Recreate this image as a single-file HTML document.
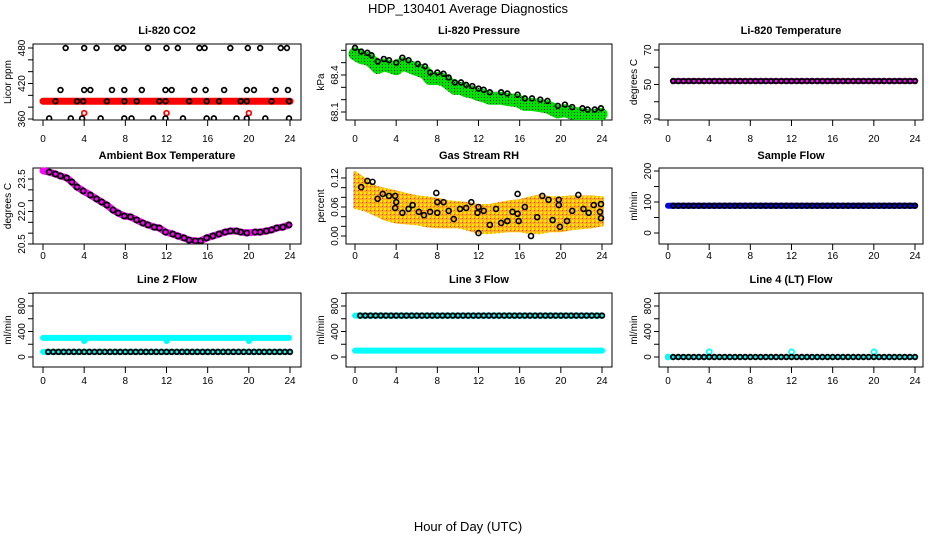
<!DOCTYPE html>
<html><head><meta charset="utf-8">
<style>
html,body{margin:0;padding:0;background:#fff;}
svg{display:block;font-family:"Liberation Sans",Arial,sans-serif;}
</style></head>
<body>
<svg id="c" width="936" height="540" viewBox="0 0 936 540" xmlns="http://www.w3.org/2000/svg">
<defs>
<pattern id="rhpat" width="4" height="4" patternUnits="userSpaceOnUse">
<rect width="4" height="4" fill="#f8b020"/><rect x="0" y="0" width="2" height="2" fill="#ffe800"/><rect x="2" y="2" width="1" height="1" fill="#e05000"/>
</pattern>
<pattern id="grpat" width="3" height="3" patternUnits="userSpaceOnUse">
<rect width="3" height="3" fill="#00e000"/><rect x="1" y="1" width="1" height="1" fill="#004000"/>
</pattern>
</defs>
<text x="468" y="13" text-anchor="middle" font-size="13">HDP_130401  Average Diagnostics</text>
<text x="468" y="531" text-anchor="middle" font-size="13">Hour of Day (UTC)</text>
</svg>
<script>
// ---- data ----
const hourTicks = [0,4,8,12,16,20,24];
const co2TopT = [2.2,4.0,5.2,7.2,7.8,10.2,12.0,13.1,15.2,15.7,18.2,19.9,21.1,23.1,23.7];
const co2TopV = [480,480,480,480,480,480,480,480,480,480,480,480,480,480,480];
const co2UpT = [1.7,4.0,4.6,6.7,7.9,9.6,11.9,12.5,14.7,15.8,17.6,19.8,20.5,22.6,23.8];
const co2UpV = [409,409,409,409,409,409,409,409,409,409,409,409,409,409,409];
const co2MidT = [1.2,3.3,3.9,6.2,7.9,9.1,11.3,11.9,14.2,15.9,17.1,19.2,19.8,22.2,23.9];
const co2MidV = [390,390,390,390,390,390,390,390,390,390,390,390,390,390,390];
const co2LowT = [0.6,2.7,3.8,5.6,7.9,8.6,10.7,11.9,13.6,15.9,16.6,18.8,19.8,21.6,23.9];
const co2LowV = [361,361,361,361,361,361,361,361,361,361,361,361,361,361,361];
const co2RedT = [0,24];
const co2RedV = [390,390];
const co2RedPtT = [4,12,20];
const co2RedPtV = [370,370,370];

const presT = [0,0.6,1.2,1.6,2.2,2.8,3.3,4.0,4.6,5.2,6.1,6.8,7.3,8.0,8.6,9.1,9.7,10.3,10.8,11.4,12.0,12.5,13.1,14.2,14.8,15.8,16.5,17.2,18.0,18.7,19.7,20.4,21.1,22.1,22.6,23.3,23.9];
const presV = [68.62,68.59,68.58,68.56,68.51,68.53,68.52,68.50,68.54,68.52,68.49,68.47,68.42,68.42,68.41,68.38,68.34,68.34,68.32,68.31,68.29,68.28,68.26,68.26,68.25,68.24,68.21,68.21,68.20,68.19,68.15,68.16,68.14,68.13,68.12,68.12,68.13];

const ambT = [0,0.6,1.2,1.7,2.3,2.8,3.3,3.9,4.6,5.2,5.7,6.2,6.8,7.3,7.9,8.5,9.1,9.7,10.2,10.8,11.3,11.9,12.6,13.1,13.7,14.2,14.8,15.3,15.9,16.5,17.1,17.7,18.2,18.8,19.2,19.8,20.6,21.1,21.7,22.2,22.7,23.3,23.9];
const ambV = [23.88,23.82,23.73,23.64,23.55,23.36,23.13,22.95,22.76,22.58,22.44,22.30,22.07,21.93,21.79,21.75,21.61,21.47,21.38,21.28,21.24,21.05,20.96,20.87,20.78,20.68,20.64,20.64,20.78,20.87,20.96,21.05,21.10,21.10,21.05,21.01,21.05,21.05,21.10,21.15,21.24,21.28,21.38];

const rhT = [0.6,1.2,1.7,2.2,2.7,3.3,3.9,4.0,3.9,4.6,5.2,5.6,6.2,6.7,7.3,7.9,8.0,8.0,8.6,9.1,9.6,10.2,10.8,11.3,11.9,12.0,12.0,12.5,13.1,13.7,14.2,14.8,15.3,15.8,15.8,15.9,16.5,17.1,17.7,18.2,18.8,19.2,19.8,19.8,19.9,20.6,21.1,21.7,22.2,22.7,23.2,23.8,23.9,23.9];
const rhV = [0.101,0.114,0.112,0.077,0.087,0.083,0.083,0.070,0.058,0.048,0.056,0.064,0.050,0.043,0.050,0.089,0.070,0.048,0.070,0.052,0.035,0.056,0.058,0.070,0.048,0.060,0.006,0.052,0.023,0.056,0.027,0.031,0.050,0.046,0.087,0.031,0.060,0.000,0.039,0.083,0.075,0.033,0.075,0.064,0.019,0.031,0.052,0.085,0.056,0.048,0.064,0.050,0.037,0.066];
const rhBandT = [0,1,2,3,4,5,6,7,8,9,10,11,12,13,14,15,16,17,18,19,20,21,22,23,24];
const rhUpper = [0.13,0.115,0.10,0.095,0.09,0.085,0.08,0.078,0.075,0.07,0.068,0.066,0.062,0.062,0.066,0.07,0.072,0.078,0.082,0.078,0.078,0.08,0.08,0.08,0.078];
const rhLower = [0.06,0.055,0.045,0.035,0.03,0.028,0.026,0.022,0.02,0.02,0.02,0.015,0.008,0.008,0.01,0.012,0.012,0.008,0.008,0.012,0.012,0.016,0.018,0.02,0.024];

const gridT = [0.5,1,1.5,2,2.5,3,3.5,4,4.5,5,5.5,6,6.5,7,7.5,8,8.5,9,9.5,10,10.5,11,11.5,12,12.5,13,13.5,14,14.5,15,15.5,16,16.5,17,17.5,18,18.5,19,19.5,20,20.5,21,21.5,22,22.5,23,23.5,24];
const tempV = [52,52,52,52,52,52,52,52,52,52,52,52,52,52,52,52,52,52,52,52,52,52,52,52,52,52,52,52,52,52,52,52,52,52,52,52,52,52,52,52,52,52,52,52,52,52,52,52];
const flowSampleV = [88,88,88,88,88,88,88,88,88,88,88,88,88,88,88,88,88,88,88,88,88,88,88,88,88,88,88,88,88,88,88,88,88,88,88,88,88,88,88,88,88,88,88,88,88,88,88,88];
const line2LowV = [80,80,80,80,80,80,80,80,80,80,80,80,80,80,80,80,80,80,80,80,80,80,80,80,80,80,80,80,80,80,80,80,80,80,80,80,80,80,80,80,80,80,80,80,80,80,80,80];
const line2HighT = [0,3.9,4.0,4.1,11.9,12.0,12.1,19.9,20.0,20.1,23.9];
const line2HighV = [300,300,250,300,300,250,300,300,250,300,300];
const line3HighV = [650,650,650,650,650,650,650,650,650,650,650,650,650,650,650,650,650,650,650,650,650,650,650,650,650,650,650,650,650,650,650,650,650,650,650,650,650,650,650,650,650,650,650,650,650,650,650,650];
const line3LowT = [0,24];
const line3LowV = [100,100];
const line4V = [0,0,0,0,0,0,0,0,0,0,0,0,0,0,0,0,0,0,0,0,0,0,0,0,0,0,0,0,0,0,0,0,0,0,0,0,0,0,0,0,0,0,0,0,0,0,0,0];
const line4SpikeT = [0,4,12,20];
const line4SpikeV = [0,80,80,80];

// ---- drawing ----
const NS = "http://www.w3.org/2000/svg";
const svg = document.getElementById('c');
function mk(tag, attrs, parent){
  const e = document.createElementNS(NS, tag);
  for (const k in attrs) e.setAttribute(k, attrs[k]);
  (parent||svg).appendChild(e);
  return e;
}
const cols = [{l:33,r:301,x0:43,x24:290},{l:346,r:612,x0:355,x24:602},{l:659,r:923,x0:668,x24:915}];
const rows = [{t:44,b:120,ty:34,xl:142},{t:168,b:244,ty:159,xl:259},{t:293,b:367,ty:283,xl:384}];

function panel(ci, ri, title, ylab, v1, p1, v2, p2, ticks, labels, labelText, name){
  const c = cols[ci], r = rows[ri];
  const g = mk('g', {});
  
  
  const sx = t => c.x0 + t*(c.x24-c.x0)/24;
  const sy = v => p1 + (v - v1)*(p2-p1)/(v2-v1);
  const tt = mk('text', {x:(c.l+c.r)/2, y:r.ty, 'text-anchor':'middle','font-size':11,'font-weight':'bold'}, g);
  tt.textContent = title;
  
  
  const yl = mk('text', {x:0,y:0,'text-anchor':'middle','font-size':10,transform:`translate(${c.l-22},${(r.t+r.b)/2}) rotate(-90)`}, g);
  yl.textContent = ylab;
  
  
  const box = mk('rect', {x:c.l,y:r.t,width:c.r-c.l,height:r.b-r.t,fill:'none',stroke:'#000','stroke-width':1}, g);
  
  
  const ax = mk('g', {}, g);
  
  
  mk('line', {x1:sx(0),x2:sx(24),y1:r.b,y2:r.b,stroke:'#000'}, ax);
  hourTicks.forEach(h => {
    mk('line', {x1:sx(h),x2:sx(h),y1:r.b,y2:r.b+6,stroke:'#000'}, ax);
    const lt = mk('text', {x:sx(h),y:r.xl,'text-anchor':'middle','font-size':10}, ax);
    lt.textContent = h;
    
    
  });
  const ay = mk('g', {}, g);
  
  
  mk('line', {x1:c.l,x2:c.l,y1:sy(ticks[0]),y2:sy(ticks[ticks.length-1]),stroke:'#000'}, ay);
  ticks.forEach(v => mk('line', {x1:c.l-5,x2:c.l,y1:sy(v),y2:sy(v),stroke:'#000'}, ay));
  labels.forEach((v,i) => {
    const lt = mk('text', {x:0,y:0,'text-anchor':'middle','font-size':10,transform:`translate(${c.l-8},${sy(v)}) rotate(-90)`}, ay);
    lt.textContent = labelText[i];
    
    
  });
  const clipId = 'cl' + ci + ri;
  const cp = mk('clipPath', {id:clipId}, g);
  mk('rect', {x:c.l+1,y:r.t-3,width:c.r-c.l-2,height:r.b-r.t+3}, cp);
  const data = mk('g', {'clip-path':`url(#${clipId})`}, g);
  
  
  return {sx, sy, g:data};
}
function band(P, T, V, color, w, dy, name){
  const pts = T.map((t,i)=>`${P.sx(t)},${P.sy(V[i])+(dy||0)}`).join(' ');
  const e = mk('polyline', {points:pts, fill:'none', stroke:color, 'stroke-width':w, 'stroke-linejoin':'round','stroke-linecap':'round'}, P.g);
  
  
}
function circles(P, T, V, color, name, rad, sw){
  T.forEach((t,i)=>{
    const e = mk('circle', {cx:P.sx(t), cy:P.sy(V[i]), r:rad||2.4, fill:'none', stroke:color, 'stroke-width':sw||1.7}, P.g);
    
    
  });
}

// Panel 1: CO2
let P = panel(0,0,'Li-820 CO2','Licor ppm',360,119,480,48,[360,380,400,420,440,460,480],[360,420,480],['360','420','480'],'co2');
band(P, co2RedT, co2RedV, '#ff0000', 7, 0, 'co2-red-band');
circles(P, co2RedPtT, co2RedPtV, '#ff0000', 'co2-red-point');
circles(P, co2TopT, co2TopV, '#000', 'co2-point');
circles(P, co2UpT, co2UpV, '#000', 'co2-point');
circles(P, co2MidT, co2MidV, '#000', 'co2-point');
circles(P, co2LowT, co2LowV, '#000', 'co2-point');

// Panel 2: Pressure
P = panel(1,0,'Li-820 Pressure','kPa',68.1,112,68.4,75,[68.1,68.2,68.3,68.4,68.5,68.6],[68.1,68.4],['68.1','68.4'],'pressure');
band(P, presT, presV, 'url(#grpat)', 13, 6, 'pressure-green-band');
circles(P, presT, presV, '#000', 'pressure-point');

// Panel 3: Li-820 Temperature
P = panel(2,0,'Li-820 Temperature','degrees C',30,119,70,50,[30,40,50,60,70],[30,50,70],['30','50','70'],'li820-temp');
band(P, gridT, tempV, '#ff00ff', 6, 0, 'li820-temp-band');
circles(P, gridT, tempV, '#000', 'li820-temp-point', 2.3, 1.9);

// Panel 4: Ambient
P = panel(0,1,'Ambient Box Temperature','degrees C',20.5,244,23.5,179,[20.5,21,21.5,22,22.5,23,23.5],[20.5,22.0,23.5],['20.5','22.0','23.5'],'ambient-temp');
band(P, ambT, ambV, '#ff00ff', 7, 0, 'ambient-temp-band');
circles(P, ambT.slice(1), ambV.slice(1), '#000', 'ambient-temp-point', 2.6, 1.8);

// Panel 5: RH
P = panel(1,1,'Gas Stream RH','percent',0,236,0.12,178,[0,0.02,0.04,0.06,0.08,0.10,0.12],[0,0.06,0.12],['0.00','0.06','0.12'],'gas-rh');
{
  const up = rhBandT.map((t,i)=>`${P.sx(t)},${P.sy(rhUpper[i])}`);
  const lo = rhBandT.map((t,i)=>`${P.sx(t)},${P.sy(rhLower[i])}`).reverse();
  const e = mk('polygon', {points:up.concat(lo).join(' '), fill:'url(#rhpat)', stroke:'url(#rhpat)', 'stroke-width':4, 'stroke-linejoin':'round'}, P.g);
  
  
}
circles(P, rhT, rhV, '#000', 'gas-rh-point', 2.5, 1.6);

// Panel 6: Sample flow
P = panel(2,1,'Sample Flow','ml/min',0,233,200,171,[0,50,100,150,200],[0,100,200],['0','100','200'],'sample-flow');
band(P, [0].concat(gridT), [flowSampleV[0]].concat(flowSampleV), '#0000ff', 6, 0, 'sample-flow-band');
circles(P, gridT, flowSampleV, '#000', 'sample-flow-point', 2.3, 1.9);

// Panel 7: Line 2
P = panel(0,2,'Line 2 Flow','ml/min',0,357,800,306,[0,200,400,600,800,1000],[0,400,800],['0','400','800'],'line2-flow');
band(P, line2HighT, line2HighV, '#00ffff', 6, 0, 'line2-high-band');
band(P, [0].concat(gridT), [line2LowV[0]].concat(line2LowV), '#00ffff', 6, 0, 'line2-low-band');
circles(P, gridT, line2LowV, '#000', 'line2-point', 2.3, 1.9);

// Panel 8: Line 3
P = panel(1,2,'Line 3 Flow','ml/min',0,357,800,306,[0,200,400,600,800,1000],[0,400,800],['0','400','800'],'line3-flow');
band(P, [0].concat(gridT), [line3HighV[0]].concat(line3HighV), '#00ffff', 6, 0, 'line3-high-band');
band(P, line3LowT, line3LowV, '#00ffff', 6, 0, 'line3-low-band');
circles(P, gridT, line3HighV, '#000', 'line3-point', 2.3, 1.9);

// Panel 9: Line 4
P = panel(2,2,'Line 4 (LT) Flow','ml/min',0,357,800,306,[0,200,400,600,800,1000],[0,400,800],['0','400','800'],'line4-flow');
band(P, [0].concat(gridT), [line4V[0]].concat(line4V), '#00ffff', 5, 0, 'line4-band');
circles(P, line4SpikeT, line4SpikeV, '#00ffff', 'line4-cyan-point', 2.5, 1.8);
circles(P, gridT, line4V, '#000', 'line4-point', 2.3, 1.9);
</script>
</body></html>
